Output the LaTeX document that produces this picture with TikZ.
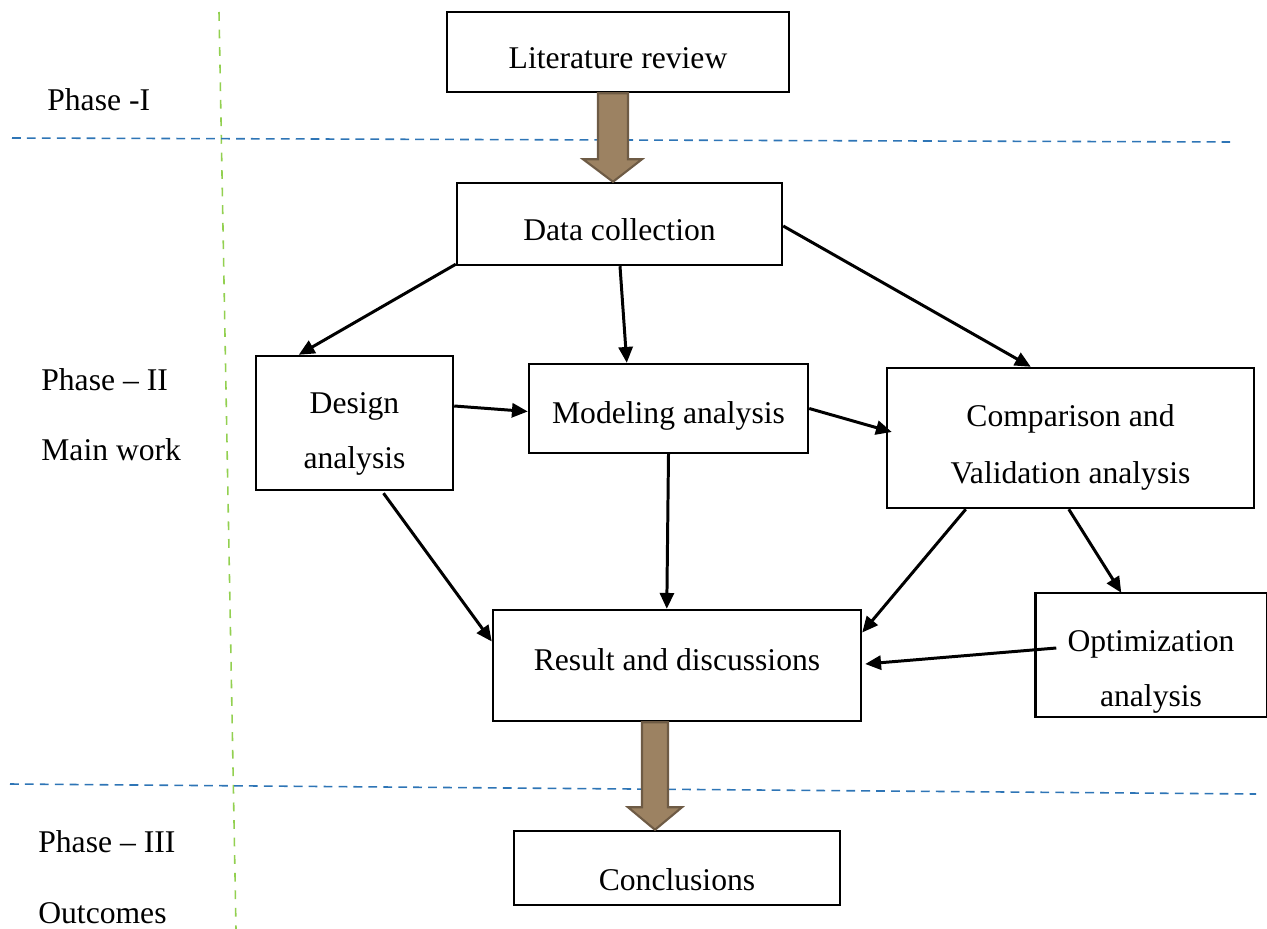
\documentclass[tikz,border=0pt]{standalone}
\usepackage{fontspec}
\setmainfont{Liberation Serif}
\usetikzlibrary{arrows.meta,calc}

\definecolor{phaseblue}{HTML}{2E75B6}
\definecolor{phasegreen}{HTML}{92D050}
\definecolor{bigfill}{HTML}{9C8262}
\definecolor{bigedge}{HTML}{6E5B45}

\tikzset{
  box/.style={draw=black, line width=1.4pt, fill=white, inner sep=0pt},
  txt/.style={inner sep=0pt, align=center, font=\fontsize{18}{31}\selectfont},
  lbl/.style={anchor=west, inner sep=0pt, font=\fontsize{18}{22}\selectfont},
  flow/.style={line width=1.7pt, -{Triangle[length=9pt,width=8pt]}},
  bigarrow/.style={fill=bigfill, draw=bigedge, line width=1.2pt, line join=miter},
  sep/.style={phaseblue, line width=0.9pt, dash pattern=on 5pt off 3.5pt},
  vsep/.style={phasegreen, line width=0.9pt, dash pattern=on 5pt off 5pt},
}

\begin{document}
\begin{tikzpicture}[x=0.02cm, y=-0.02cm]
\useasboundingbox (0,0) rectangle (1267,929);

% phase separators
\draw[vsep] (219,12) -- (236,929);
\draw[sep] (12,138) -- (1230,142);
\draw[sep] (10,784) -- (1256,794);

% boxes
\node[box, minimum width=342*0.02cm, minimum height=80*0.02cm] (lit) at (618,52) {};
\node[box, minimum width=325*0.02cm, minimum height=82*0.02cm] (dc) at (619.5,224) {};
\node[box, minimum width=197*0.02cm, minimum height=134*0.02cm] (da) at (354.5,423) {};
\node[box, minimum width=279*0.02cm, minimum height=89*0.02cm] (ma) at (668.5,408.5) {};
\node[box, minimum width=367*0.02cm, minimum height=140*0.02cm] (cv) at (1070.5,438) {};
\node[box, minimum width=368*0.02cm, minimum height=111*0.02cm] (rd) at (677,665.5) {};
\node[box, draw=none, minimum width=229*0.02cm, minimum height=122*0.02cm] (oa) at (1151,655) {};
\node[box, minimum width=326*0.02cm, minimum height=74*0.02cm] (cc) at (677,868) {};

% box texts
\node[txt] (litT) at ($(lit)+(0,6)$) {Literature review};
\node[txt] (dcT) at ($(dc)+(0,6)$) {Data collection};
\node[txt] (daT) at ($(da)+(0,11)$) {Design\\analysis};
\node[txt] (maT) at ($(ma)+(0,7)$) {Modeling analysis};
\node[txt, font=\fontsize{18}{32.5}\selectfont] (cvT) at ($(cv)+(0,9)$) {Comparison and\\Validation analysis};
\node[txt] (rdT) at ($(rd)+(0,-6)$) {Result and discussions};
\begin{scope}
  \clip (oa.south west) rectangle (oa.north east);
  \node[txt] (oaT) at ($(oa)+(0,17)$) {Optimization\\analysis};
\end{scope}
\draw[line width=1.4pt] (oa.south west) rectangle (oa.north east);
\node[txt] (ccT) at ($(cc)+(0,12)$) {Conclusions};

% phase labels
\node[lbl] (p1) at (47,100) {Phase -I};
\node[lbl] (p2) at (41,380) {Phase -- II};
\node[lbl] (p2b) at (41,450) {Main work};
\node[lbl] (p3) at (38,842) {Phase -- III};
\node[lbl] (p3b) at (38,913) {Outcomes};

% wide block arrows between the phases
\draw[bigarrow]
  ($(lit.south)+(-20,0)$) -- ($(lit.south)+(10,0)$) -- ($(lit.south)+(10,66)$)
  -- ($(lit.south)+(24,66)$) -- ($(dc.north)+(-6.5,0)$) -- ($(lit.south)+(-35,66)$)
  -- ($(lit.south)+(-20,66)$) -- cycle;
\draw[bigarrow]
  ($(rd.south)+(-35,0)$) -- ($(rd.south)+(-9,0)$) -- ($(rd.south)+(-9,85)$)
  -- ($(rd.south)+(5,85)$) -- ($(cc.north)+(-22,0)$) -- ($(rd.south)+(-49,85)$)
  -- ($(rd.south)+(-35,85)$) -- cycle;

% flow connectors
\draw[flow] ($(dc.south west)+(0,-2)$) -- ($(da.north west)+(44,0)$);
\draw[flow] ($(dc.south)+(0.5,0)$) -- ($(ma.north west)+(99,0)$);
\draw[flow] ($(dc.east)+(0,2)$) -- ($(cv.north west)+(145,0)$);
\draw[flow] ($(da.east)+(0,-17)$) -- ($(ma.west)+(0,3)$);
\draw[flow] (ma.east) -- ($(cv.west)+(6,-6)$);
\draw[flow] ($(da.south)+(29,2)$) -- ($(rd.west)+(0,-24)$);
\draw[flow] (ma.south) -- ($(rd.north west)+(175,0)$);
\draw[flow] ($(cv.south west)+(80,0)$) -- ($(rd.east)+(0,-33)$);
\draw[flow] ($(cv.south west)+(183,0)$) -- ($(oa.north west)+(86,0)$);
\draw[flow] ($(oa.west)+(21,-7)$) -- ($(rd.east)+(3,-1.5)$);
\end{tikzpicture}
\end{document}
